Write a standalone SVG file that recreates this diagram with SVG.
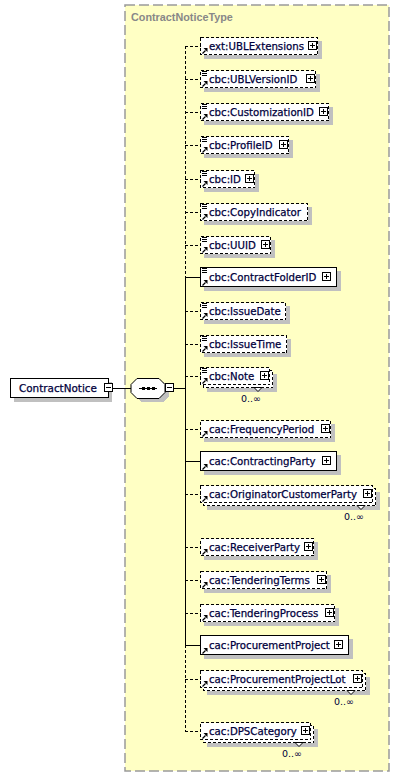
<svg xmlns="http://www.w3.org/2000/svg" width="401" height="777" viewBox="0 0 401 777">
<style>
.frame{fill:#FFFFC4;stroke:#9a9a9a;stroke-width:1.5;stroke-dasharray:10,4}
.title{font-family:"Liberation Sans",Arial,sans-serif;font-size:10.8px;font-weight:bold;fill:#888}
.sh{fill:#c0c0c0;shape-rendering:crispEdges}
.box{fill:#fff;stroke:#000;stroke-width:1;shape-rendering:crispEdges}
.opt{stroke-dasharray:3,2}
.t{font-family:"DejaVu Sans",Verdana,sans-serif;font-size:10.2px;fill:#00003c;stroke:#00003c;stroke-width:0.25}
.occ{font-family:"DejaVu Sans",Verdana,sans-serif;font-size:9.5px;fill:#00003c;text-anchor:end}
.ln{fill:none;stroke:#000;stroke-width:1;shape-rendering:crispEdges}
.dash{stroke-dasharray:3,2}
</style>
<defs>
<g id="plus"><rect x="0.5" y="0.5" width="8" height="8" fill="#fff" stroke="#000" shape-rendering="crispEdges"/><path d="M2 4.5h5M4.5 2v5" stroke="#000" fill="none" shape-rendering="crispEdges"/></g>
<g id="minus"><rect x="0.5" y="0.5" width="8" height="8" fill="#fff" stroke="#000" shape-rendering="crispEdges"/><path d="M2 4.5h5" stroke="#000" fill="none" shape-rendering="crispEdges"/></g>
<g id="lines"><path d="M2 1.5h5M2 3.5h5M2 5.5h5" stroke="#000" fill="none" shape-rendering="crispEdges"/></g>
<g id="arrow"><path d="M2.5 -1.5L5.5 -4.5" stroke="#000" stroke-width="1.2" fill="none"/><polygon points="3.5,-7 7.5,-7 7.5,-3" fill="#000"/></g>
<g id="notch"><polygon points="-4,0 4,0 0,4" fill="#fff" stroke="#000" stroke-width="1"/></g>
</defs>

<rect class="frame" x="125" y="5" width="264" height="766"/>
<text class="title" x="131" y="21">ContractNoticeType</text>

<g id="connectors">
<path class="ln" d="M113 388.5H131M174 388.5H185.5"/>
<path class="ln dash" d="M185.5 46V277M185.5 645V731"/>
<path class="ln" d="M185.5 277V645"/>
<path class="ln dash" d="M185 46.5H201M185 79.5H201M185 112.5H201M185 145.5H201M185 179.5H201M185 212.5H201M185 245.5H201M185 311.5H201M185 344.5H201M185 376.5H201M185 429.5H201M185 494.5H201M185 547.5H201M185 580.5H201M185 613.5H201M185 679.5H201M185 731.5H201"/>
<path class="ln" d="M185 277.5H201M185 461.5H201M185 645.5H201"/>
</g>

<g id="ContractNotice">
<rect class="sh" x="14" y="382" width="98" height="20"/>
<rect class="box" x="10.5" y="378.5" width="98" height="19"/>
<text class="t" x="19" y="392" style="font-size:10.4px">ContractNotice</text>
<use href="#minus" x="104" y="383"/>
</g>

<g id="sequence">
<polygon class="sh" points="141,382 163,382 169,388 169,396 163,402 141,402 135,396 135,388"/>
<polygon fill="#fff" stroke="#000" points="137,378.5 159,378.5 165,384.5 165,392.5 159,398.5 137,398.5 131,392.5 131,384.5"/>
<path class="ln" d="M139 388.5H157"/>
<rect x="142" y="387" width="3" height="3" fill="#000"/>
<rect x="147" y="387" width="3" height="3" fill="#000"/>
<rect x="152" y="387" width="3" height="3" fill="#000"/>
<use href="#minus" x="165" y="383"/>
</g>

<g id="ext_UBLExtensions">
<rect class="sh" x="204" y="41" width="118" height="18"/>
<rect class="box opt" x="200.5" y="37.5" width="117" height="17"/>
<text class="t" x="209" y="50">ext:UBLExtensions</text>
<use href="#plus" x="308" y="41"/>
<use href="#arrow" x="200" y="55"/>
</g>

<g id="cbc_UBLVersionID">
<rect class="sh" x="204" y="74" width="116" height="18"/>
<rect class="box opt" x="200.5" y="70.5" width="115" height="17"/>
<text class="t" x="209" y="83">cbc:UBLVersionID</text>
<use href="#plus" x="306" y="74"/>
<use href="#lines" x="200" y="70"/>
<use href="#arrow" x="200" y="88"/>
</g>

<g id="cbc_CustomizationID">
<rect class="sh" x="204" y="107" width="129" height="18"/>
<rect class="box opt" x="200.5" y="103.5" width="128" height="17"/>
<text class="t" x="209" y="116">cbc:CustomizationID</text>
<use href="#plus" x="319" y="107"/>
<use href="#lines" x="200" y="103"/>
<use href="#arrow" x="200" y="121"/>
</g>

<g id="cbc_ProfileID">
<rect class="sh" x="204" y="140" width="89" height="18"/>
<rect class="box opt" x="200.5" y="136.5" width="88" height="17"/>
<text class="t" x="209" y="149">cbc:ProfileID</text>
<use href="#plus" x="279" y="140"/>
<use href="#lines" x="200" y="136"/>
<use href="#arrow" x="200" y="154"/>
</g>

<g id="cbc_ID">
<rect class="sh" x="204" y="174" width="55" height="18"/>
<rect class="box opt" x="200.5" y="170.5" width="54" height="17"/>
<text class="t" x="209" y="183">cbc:ID</text>
<use href="#plus" x="245" y="174"/>
<use href="#lines" x="200" y="170"/>
<use href="#arrow" x="200" y="188"/>
</g>

<g id="cbc_CopyIndicator">
<rect class="sh" x="204" y="207" width="108" height="18"/>
<rect class="box opt" x="200.5" y="203.5" width="107" height="17"/>
<text class="t" x="209" y="216">cbc:CopyIndicator</text>
<use href="#lines" x="200" y="203"/>
<use href="#arrow" x="200" y="221"/>
</g>

<g id="cbc_UUID">
<rect class="sh" x="204" y="240" width="71" height="18"/>
<rect class="box opt" x="200.5" y="236.5" width="70" height="17"/>
<text class="t" x="209" y="249">cbc:UUID</text>
<use href="#plus" x="261" y="240"/>
<use href="#lines" x="200" y="236"/>
<use href="#arrow" x="200" y="254"/>
</g>

<g id="cbc_ContractFolderID">
<rect class="sh" x="204" y="271" width="137" height="20"/>
<rect class="box" x="200.5" y="267.5" width="136" height="19"/>
<text class="t" x="209" y="281">cbc:ContractFolderID</text>
<use href="#plus" x="322" y="272"/>
<use href="#lines" x="200" y="267"/>
<use href="#arrow" x="200" y="287"/>
</g>

<g id="cbc_IssueDate">
<rect class="sh" x="204" y="306" width="86" height="18"/>
<rect class="box opt" x="200.5" y="302.5" width="85" height="17"/>
<text class="t" x="209" y="315">cbc:IssueDate</text>
<use href="#lines" x="200" y="302"/>
<use href="#arrow" x="200" y="320"/>
</g>

<g id="cbc_IssueTime">
<rect class="sh" x="204" y="339" width="87" height="18"/>
<rect class="box opt" x="200.5" y="335.5" width="86" height="17"/>
<text class="t" x="209" y="348">cbc:IssueTime</text>
<use href="#lines" x="200" y="335"/>
<use href="#arrow" x="200" y="353"/>
</g>

<g id="cbc_Note">
<rect class="sh" x="207" y="374" width="70" height="18"/>
<rect class="box opt" x="203.5" y="370.5" width="69" height="17"/>
<rect class="box opt" x="200.5" y="367.5" width="69" height="17"/>
<text class="t" x="209" y="380">cbc:Note</text>
<use href="#plus" x="260" y="371"/>
<use href="#lines" x="200" y="367"/>
<use href="#arrow" x="200" y="385"/>
<use href="#notch" x="258" y="387.5"/>
<text class="occ" x="261" y="402">0..∞</text>
</g>

<g id="cac_FrequencyPeriod">
<rect class="sh" x="204" y="424" width="131" height="18"/>
<rect class="box opt" x="200.5" y="420.5" width="130" height="17"/>
<text class="t" x="209" y="433">cac:FrequencyPeriod</text>
<use href="#plus" x="321" y="424"/>
<use href="#arrow" x="200" y="438"/>
</g>

<g id="cac_ContractingParty">
<rect class="sh" x="204" y="455" width="137" height="20"/>
<rect class="box" x="200.5" y="451.5" width="136" height="19"/>
<text class="t" x="209" y="465">cac:ContractingParty</text>
<use href="#plus" x="322" y="456"/>
<use href="#arrow" x="200" y="471"/>
</g>

<g id="cac_OriginatorCustomerParty">
<rect class="sh" x="207" y="492" width="173" height="18"/>
<rect class="box opt" x="203.5" y="488.5" width="172" height="17"/>
<rect class="box opt" x="200.5" y="485.5" width="172" height="17"/>
<text class="t" x="209" y="498">cac:OriginatorCustomerParty</text>
<use href="#plus" x="363" y="489"/>
<use href="#arrow" x="200" y="503"/>
<use href="#notch" x="361" y="505.5"/>
<text class="occ" x="364" y="520">0..∞</text>
</g>

<g id="cac_ReceiverParty">
<rect class="sh" x="204" y="542" width="114" height="18"/>
<rect class="box opt" x="200.5" y="538.5" width="113" height="17"/>
<text class="t" x="209" y="551">cac:ReceiverParty</text>
<use href="#plus" x="304" y="542"/>
<use href="#arrow" x="200" y="556"/>
</g>

<g id="cac_TenderingTerms">
<rect class="sh" x="204" y="575" width="127" height="18"/>
<rect class="box opt" x="200.5" y="571.5" width="126" height="17"/>
<text class="t" x="209" y="584">cac:TenderingTerms</text>
<use href="#plus" x="317" y="575"/>
<use href="#arrow" x="200" y="589"/>
</g>

<g id="cac_TenderingProcess">
<rect class="sh" x="204" y="608" width="135" height="18"/>
<rect class="box opt" x="200.5" y="604.5" width="134" height="17"/>
<text class="t" x="209" y="617">cac:TenderingProcess</text>
<use href="#plus" x="325" y="608"/>
<use href="#arrow" x="200" y="622"/>
</g>

<g id="cac_ProcurementProject">
<rect class="sh" x="204" y="639" width="149" height="20"/>
<rect class="box" x="200.5" y="635.5" width="148" height="19"/>
<text class="t" x="209" y="649">cac:ProcurementProject</text>
<use href="#plus" x="334" y="640"/>
<use href="#arrow" x="200" y="655"/>
</g>

<g id="cac_ProcurementProjectLot">
<rect class="sh" x="207" y="677" width="163" height="18"/>
<rect class="box opt" x="203.5" y="673.5" width="162" height="17"/>
<rect class="box opt" x="200.5" y="670.5" width="162" height="17"/>
<text class="t" x="209" y="683">cac:ProcurementProjectLot</text>
<use href="#plus" x="353" y="674"/>
<use href="#arrow" x="200" y="688"/>
<use href="#notch" x="351" y="690.5"/>
<text class="occ" x="354" y="705">0..∞</text>
</g>

<g id="cac_DPSCategory">
<rect class="sh" x="207" y="729" width="111" height="18"/>
<rect class="box opt" x="203.5" y="725.5" width="110" height="17"/>
<rect class="box opt" x="200.5" y="722.5" width="110" height="17"/>
<text class="t" x="209" y="735">cac:DPSCategory</text>
<use href="#plus" x="301" y="726"/>
<use href="#arrow" x="200" y="740"/>
<use href="#notch" x="299" y="742.5"/>
<text class="occ" x="302" y="757">0..∞</text>
</g>
</svg>
